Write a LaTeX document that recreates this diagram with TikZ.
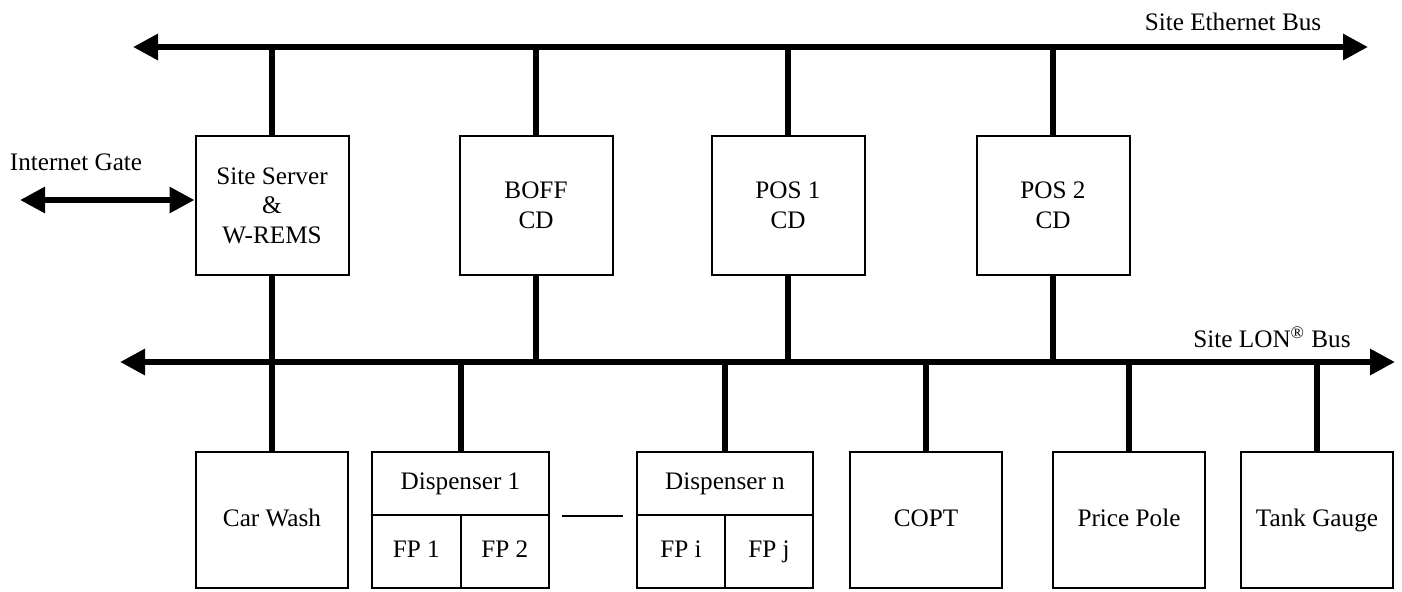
\documentclass[tikz,border=0pt]{standalone}
\usepackage{fontspec}
\setmainfont{Liberation Serif}
\usetikzlibrary{arrows.meta}
\tikzset{>={Triangle[length=12.5pt,width=12.5pt]}}
\tikzset{box/.style = {shape=rectangle,draw,line width=1pt,minimum width=76.5pt,minimum height=69.5pt,align=center,inner sep=0pt,font=\fontsize{12.6pt}{14.8pt}\selectfont}}
\tikzset{cell/.style = {box,text height=8.6pt,text depth=2.6pt}}
\tikzset{label/.style = {font=\fontsize{12.6pt}{14.8pt}\selectfont,inner sep=0pt}}
\tikzset{edge/.style = {line width=3pt}}

\begin{document}
\begin{tikzpicture}[x=0.5pt,y=-0.5pt]
                    \useasboundingbox (0,0) rectangle (1402,591);
                    \coordinate (ethL) at (133,47);
                    \coordinate (ethR) at (1368,47);
                    \coordinate (lonL) at (120,362);
                    \coordinate (lonR) at (1395,362);
                    \coordinate (gate) at (20,200);

                    \node[box] (server) at (272,205.5) {Site Server\\\&\\W-REMS};
                    \node[box] (boff) at (536,205.5) {BOFF\\CD};
                    \node[box] (pos1) at (788,205.5) {POS 1\\CD};
                    \node[box] (pos2) at (1053,205.5) {POS 2\\CD};

                    \node[cell, minimum width=76pt, minimum height=68pt] (carwash) at (272,520) {Car Wash};
                    \node[cell, minimum width=88.5pt, minimum height=31.5pt] (disp1) at (460.5,483.5) {Dispenser 1};
                    \node[cell, minimum width=44.25pt, minimum height=36.5pt] (fp1) at (416.25,551.5) {FP 1};
                    \node[cell, minimum width=44.25pt, minimum height=36.5pt] (fp2) at (504.75,551.5) {FP 2};
                    \node[cell, minimum width=88pt, minimum height=31.5pt] (dispn) at (725,483.5) {Dispenser n};
                    \node[cell, minimum width=44pt, minimum height=36.5pt] (fpi) at (681,551.5) {FP i};
                    \node[cell, minimum width=44pt, minimum height=36.5pt] (fpj) at (769,551.5) {FP j};
                    \node[cell, minimum width=76pt, minimum height=68pt] (copt) at (926,520) {COPT};
                    \node[cell, minimum width=76pt, minimum height=68pt] (pole) at (1129,520) {Price Pole};
                    \node[cell, minimum width=76pt, minimum height=68pt] (tank) at (1317,520) {Tank Gauge};

                    \node[label] (ethbus) at (1233,22) {Site Ethernet Bus};
                    \node[label] (lonbus) at (1272,337) {Site LON\textsuperscript{®} Bus};
                    \node[label] (inet) at (76,162) {Internet Gate};

                    \draw[edge, <->] (ethL) -- (ethR);
                    \draw[edge, <->] (lonL) -- (lonR);
                    \draw[edge, <->] (gate) -- (gate -| server.west);
                    \draw[edge] (server.north) -- (server.north |- ethL);
                    \draw[edge] (boff.north) -- (boff.north |- ethL);
                    \draw[edge] (pos1.north) -- (pos1.north |- ethL);
                    \draw[edge] (pos2.north) -- (pos2.north |- ethL);
                    \draw[edge] (server.south) -- (carwash.north);
                    \draw[edge] (boff.south) -- (boff.south |- lonL);
                    \draw[edge] (pos1.south) -- (pos1.south |- lonL);
                    \draw[edge] (pos2.south) -- (pos2.south |- lonL);
                    \draw[edge] (disp1.north) -- (disp1.north |- lonL);
                    \draw[edge] (dispn.north) -- (dispn.north |- lonL);
                    \draw[edge] (copt.north) -- (copt.north |- lonL);
                    \draw[edge] (pole.north) -- (pole.north |- lonL);
                    \draw[edge] (tank.north) -- (tank.north |- lonL);
                    \draw[line width=0.8pt] ([xshift=6pt]disp1.south east) -- ([xshift=-6.5pt]dispn.south west);
                \end{tikzpicture}
\end{document}
